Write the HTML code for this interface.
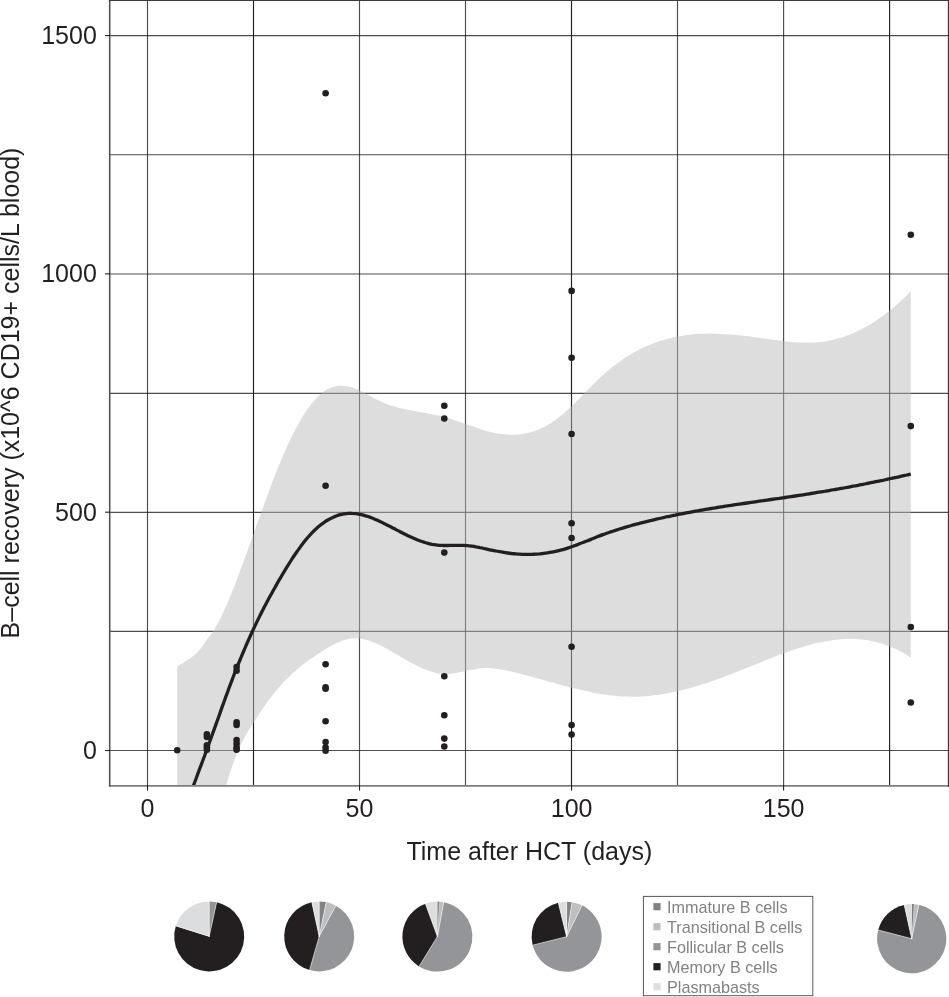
<!DOCTYPE html>
<html lang="en">
<head>
<meta charset="utf-8">
<title>B-cell recovery after HCT</title>
<style>
html,body{margin:0;padding:0;background:#fff;}
body{width:949px;height:997px;overflow:hidden;}
svg{display:block;}
text{font-family:"Liberation Sans",Arial,Helvetica,sans-serif;}
.ax{font-size:25px;fill:#231f20;}
.lg{font-size:16.2px;fill:#808285;}
</style>
</head>
<body>
<svg width="949" height="997" viewBox="0 0 949 997">
<rect x="0" y="0" width="949" height="997" fill="#ffffff"/>
<defs><clipPath id="panel"><rect x="110" y="0.5" width="838.5" height="785.5"/></clipPath></defs>

<g stroke-width="1.15" fill="none">
<line x1="147.50" y1="0" x2="147.50" y2="786" stroke="#231f20" stroke-opacity="0.8"/>
<line x1="253.50" y1="0" x2="253.50" y2="786" stroke="#231f20" stroke-opacity="1.0"/>
<line x1="359.50" y1="0" x2="359.50" y2="786" stroke="#231f20" stroke-opacity="0.8"/>
<line x1="465.50" y1="0" x2="465.50" y2="786" stroke="#231f20" stroke-opacity="0.8"/>
<line x1="571.50" y1="0" x2="571.50" y2="786" stroke="#231f20" stroke-opacity="1.0"/>
<line x1="677.50" y1="0" x2="677.50" y2="786" stroke="#231f20" stroke-opacity="0.8"/>
<line x1="783.60" y1="0" x2="783.60" y2="786" stroke="#231f20" stroke-opacity="0.8"/>
<line x1="889.60" y1="0" x2="889.60" y2="786" stroke="#231f20" stroke-opacity="1.0"/>
<line x1="110" y1="750.50" x2="949" y2="750.50" stroke="#231f20" stroke-opacity="0.8"/>
<line x1="110" y1="631.40" x2="949" y2="631.40" stroke="#231f20" stroke-opacity="0.8"/>
<line x1="110" y1="512.40" x2="949" y2="512.40" stroke="#231f20" stroke-opacity="0.8"/>
<line x1="110" y1="393.30" x2="949" y2="393.30" stroke="#231f20" stroke-opacity="0.8"/>
<line x1="110" y1="274.00" x2="949" y2="274.00" stroke="#231f20" stroke-opacity="0.8"/>
<line x1="110" y1="154.70" x2="949" y2="154.70" stroke="#231f20" stroke-opacity="0.8"/>
<line x1="110" y1="35.55" x2="949" y2="35.55" stroke="#231f20" stroke-opacity="0.8"/>
</g>
<g clip-path="url(#panel)">
<path d="M177.2 666.3C178.0 665.8 180.5 664.4 182.2 663.4C183.9 662.4 185.5 661.4 187.2 660.3C188.8 659.2 190.5 658.1 192.2 656.7C193.8 655.4 195.5 654.1 197.2 652.4C198.8 650.7 200.5 648.6 202.2 646.4C203.8 644.3 205.5 641.6 207.1 639.3C208.8 637.1 210.5 635.4 212.1 633.0C213.8 630.5 215.5 627.8 217.1 624.8C218.8 621.7 220.5 618.4 222.1 614.9C223.8 611.4 225.4 607.6 227.1 603.7C228.8 599.8 230.4 595.7 232.1 591.6C233.8 587.5 235.4 583.2 237.1 578.9C238.7 574.5 240.4 570.1 242.1 565.6C243.7 561.2 245.4 556.6 247.1 552.0C248.7 547.4 250.4 542.8 252.1 538.1C253.7 533.5 255.4 528.8 257.0 524.1C258.7 519.5 260.4 514.8 262.0 510.2C263.7 505.6 265.4 501.0 267.0 496.4C268.7 491.9 270.4 487.4 272.0 483.1C273.7 478.7 275.3 474.4 277.0 470.2C278.7 466.0 280.3 461.9 282.0 458.0C283.7 454.1 285.3 450.3 287.0 446.6C288.7 443.0 290.3 439.5 292.0 436.1C293.6 432.7 295.3 429.5 297.0 426.5C298.6 423.4 300.3 420.5 302.0 417.7C303.6 415.0 305.3 412.4 307.0 410.0C308.6 407.6 310.3 405.3 311.9 403.3C313.6 401.2 315.3 399.3 316.9 397.6C318.6 395.9 320.3 394.4 321.9 393.0C323.6 391.7 325.3 390.5 326.9 389.6C328.6 388.6 330.2 387.9 331.9 387.3C333.6 386.7 335.2 386.3 336.9 386.0C338.6 385.8 340.2 385.7 341.9 385.7C343.5 385.7 345.2 385.9 346.9 386.2C348.5 386.5 350.2 386.9 351.9 387.4C353.5 387.9 355.2 388.5 356.9 389.2C358.5 389.9 360.2 390.7 361.8 391.5C363.5 392.4 365.2 393.3 366.8 394.2C368.5 395.1 370.2 396.0 371.8 396.9C373.5 397.8 375.2 398.8 376.8 399.6C378.5 400.4 380.1 401.2 381.8 402.0C383.5 402.7 385.1 403.4 386.8 404.0C388.5 404.6 390.1 405.2 391.8 405.7C393.5 406.3 395.1 406.8 396.8 407.2C398.4 407.7 400.1 408.1 401.8 408.5C403.4 408.9 405.1 409.3 406.8 409.6C408.4 410.0 410.1 410.3 411.8 410.6C413.4 411.0 415.1 411.3 416.7 411.6C418.4 411.9 420.1 412.1 421.7 412.4C423.4 412.7 425.1 413.0 426.7 413.3C428.4 413.6 430.1 413.9 431.7 414.2C433.4 414.6 435.0 414.9 436.7 415.2C438.4 415.6 440.0 416.0 441.7 416.4C443.4 416.8 445.0 417.2 446.7 417.7C448.3 418.2 450.0 418.7 451.7 419.2C453.3 419.7 455.0 420.3 456.7 420.8C458.3 421.4 460.0 422.0 461.7 422.5C463.3 423.1 465.0 423.7 466.6 424.3C468.3 424.9 470.0 425.5 471.6 426.1C473.3 426.6 475.0 427.2 476.6 427.8C478.3 428.3 480.0 428.9 481.6 429.4C483.3 429.9 484.9 430.4 486.6 430.9C488.3 431.4 489.9 431.8 491.6 432.2C493.3 432.6 494.9 433.0 496.6 433.3C498.3 433.6 499.9 433.9 501.6 434.1C503.2 434.4 504.9 434.5 506.6 434.6C508.2 434.8 509.9 434.8 511.6 434.8C513.2 434.8 514.9 434.8 516.6 434.7C518.2 434.6 519.9 434.4 521.5 434.2C523.2 433.9 524.9 433.6 526.5 433.3C528.2 432.9 529.9 432.5 531.5 432.0C533.2 431.5 534.9 430.9 536.5 430.3C538.2 429.7 539.8 429.0 541.5 428.2C543.2 427.4 544.8 426.6 546.5 425.7C548.2 424.7 549.8 423.8 551.5 422.7C553.1 421.6 554.8 420.5 556.5 419.2C558.1 418.0 559.8 416.7 561.5 415.3C563.1 413.9 564.8 412.5 566.5 411.0C568.1 409.5 569.8 407.9 571.4 406.3C573.1 404.7 574.8 403.1 576.4 401.4C578.1 399.8 579.8 398.1 581.4 396.4C583.1 394.7 584.8 393.0 586.4 391.3C588.1 389.6 589.7 387.9 591.4 386.2C593.1 384.5 594.7 382.9 596.4 381.3C598.1 379.6 599.7 378.0 601.4 376.5C603.1 375.0 604.7 373.5 606.4 372.0C608.0 370.6 609.7 369.2 611.4 367.9C613.0 366.5 614.7 365.2 616.4 364.0C618.0 362.7 619.7 361.5 621.4 360.4C623.0 359.2 624.7 358.1 626.3 357.1C628.0 356.0 629.7 355.0 631.3 354.0C633.0 353.0 634.7 352.1 636.3 351.2C638.0 350.3 639.7 349.4 641.3 348.6C643.0 347.8 644.6 347.0 646.3 346.3C648.0 345.5 649.6 344.8 651.3 344.2C653.0 343.5 654.6 342.9 656.3 342.3C657.9 341.7 659.6 341.1 661.3 340.6C662.9 340.1 664.6 339.6 666.3 339.2C667.9 338.7 669.6 338.3 671.3 337.9C672.9 337.5 674.6 337.1 676.2 336.8C677.9 336.5 679.6 336.2 681.2 335.9C682.9 335.6 684.6 335.4 686.2 335.1C687.9 334.9 689.6 334.7 691.2 334.5C692.9 334.4 694.5 334.2 696.2 334.1C697.9 334.0 699.5 333.9 701.2 333.8C702.9 333.7 704.5 333.7 706.2 333.7C707.9 333.6 709.5 333.6 711.2 333.6C712.8 333.6 714.5 333.7 716.2 333.7C717.8 333.8 719.5 333.8 721.2 333.9C722.8 334.0 724.5 334.1 726.2 334.2C727.8 334.3 729.5 334.4 731.1 334.6C732.8 334.7 734.5 334.9 736.1 335.0C737.8 335.2 739.5 335.3 741.1 335.5C742.8 335.7 744.5 335.9 746.1 336.1C747.8 336.3 749.4 336.5 751.1 336.7C752.8 336.9 754.4 337.2 756.1 337.4C757.8 337.6 759.4 337.8 761.1 338.1C762.7 338.3 764.4 338.5 766.1 338.8C767.7 339.0 769.4 339.3 771.1 339.5C772.7 339.7 774.4 340.0 776.1 340.2C777.7 340.4 779.4 340.6 781.0 340.8C782.7 341.0 784.4 341.2 786.0 341.4C787.7 341.6 789.4 341.8 791.0 341.9C792.7 342.0 794.4 342.2 796.0 342.3C797.7 342.4 799.3 342.5 801.0 342.6C802.7 342.6 804.3 342.7 806.0 342.7C807.7 342.7 809.3 342.7 811.0 342.6C812.7 342.6 814.3 342.5 816.0 342.4C817.6 342.3 819.3 342.1 821.0 341.9C822.6 341.7 824.3 341.5 826.0 341.2C827.6 341.0 829.3 340.7 831.0 340.3C832.6 340.0 834.3 339.6 835.9 339.1C837.6 338.7 839.3 338.2 840.9 337.7C842.6 337.2 844.3 336.6 845.9 336.0C847.6 335.4 849.3 334.8 850.9 334.1C852.6 333.4 854.2 332.7 855.9 331.9C857.6 331.2 859.2 330.4 860.9 329.5C862.6 328.7 864.2 327.8 865.9 326.8C867.5 325.9 869.2 324.9 870.9 323.9C872.5 322.9 874.2 321.8 875.9 320.7C877.5 319.6 879.2 318.5 880.9 317.3C882.5 316.1 884.2 314.9 885.8 313.6C887.5 312.3 889.2 311.0 890.8 309.6C892.5 308.3 894.2 306.9 895.8 305.4C897.5 304.0 899.2 302.5 900.8 300.9C902.5 299.4 904.1 297.8 905.8 296.2C907.5 294.6 910.0 292.0 910.8 291.2L910.8 657.6C910.0 657.1 907.5 655.4 905.8 654.4C904.1 653.4 902.5 652.5 900.8 651.6C899.1 650.7 897.5 649.9 895.8 649.1C894.1 648.3 892.5 647.6 890.8 646.9C889.1 646.2 887.5 645.6 885.8 645.0C884.1 644.4 882.5 643.8 880.8 643.3C879.2 642.8 877.5 642.4 875.8 642.0C874.2 641.6 872.5 641.2 870.8 640.9C869.2 640.6 867.5 640.3 865.8 640.1C864.2 639.8 862.5 639.6 860.8 639.5C859.2 639.3 857.5 639.2 855.8 639.1C854.2 639.0 852.5 639.0 850.8 639.0C849.2 639.0 847.5 639.0 845.8 639.1C844.2 639.1 842.5 639.2 840.8 639.3C839.2 639.5 837.5 639.6 835.8 639.8C834.2 640.0 832.5 640.2 830.8 640.4C829.2 640.7 827.5 640.9 825.8 641.2C824.2 641.5 822.5 641.9 820.9 642.2C819.2 642.6 817.5 642.9 815.9 643.3C814.2 643.7 812.5 644.1 810.9 644.6C809.2 645.0 807.5 645.5 805.9 645.9C804.2 646.4 802.5 646.9 800.9 647.4C799.2 648.0 797.5 648.5 795.9 649.0C794.2 649.6 792.5 650.1 790.9 650.7C789.2 651.3 787.5 651.9 785.9 652.5C784.2 653.1 782.5 653.7 780.9 654.3C779.2 654.9 777.5 655.6 775.9 656.2C774.2 656.9 772.5 657.5 770.9 658.2C769.2 658.8 767.6 659.5 765.9 660.1C764.2 660.8 762.6 661.5 760.9 662.2C759.2 662.8 757.6 663.5 755.9 664.2C754.2 664.9 752.6 665.5 750.9 666.2C749.2 666.9 747.6 667.6 745.9 668.3C744.2 668.9 742.6 669.6 740.9 670.3C739.2 670.9 737.6 671.6 735.9 672.3C734.2 672.9 732.6 673.6 730.9 674.2C729.2 674.9 727.6 675.5 725.9 676.1C724.2 676.8 722.6 677.4 720.9 678.0C719.2 678.6 717.6 679.2 715.9 679.8C714.2 680.4 712.6 681.0 710.9 681.5C709.3 682.1 707.6 682.7 705.9 683.2C704.3 683.8 702.6 684.3 700.9 684.8C699.3 685.3 697.6 685.8 695.9 686.3C694.3 686.8 692.6 687.3 690.9 687.8C689.3 688.2 687.6 688.7 685.9 689.1C684.3 689.6 682.6 690.0 680.9 690.4C679.3 690.8 677.6 691.2 675.9 691.5C674.3 691.9 672.6 692.3 670.9 692.6C669.3 692.9 667.6 693.3 665.9 693.6C664.3 693.9 662.6 694.1 660.9 694.4C659.3 694.7 657.6 694.9 655.9 695.1C654.3 695.3 652.6 695.5 651.0 695.7C649.3 695.9 647.6 696.0 646.0 696.2C644.3 696.3 642.6 696.4 641.0 696.5C639.3 696.6 637.6 696.7 636.0 696.7C634.3 696.7 632.6 696.7 631.0 696.7C629.3 696.7 627.6 696.7 626.0 696.6C624.3 696.6 622.6 696.5 621.0 696.4C619.3 696.3 617.6 696.1 616.0 696.0C614.3 695.8 612.6 695.7 611.0 695.5C609.3 695.3 607.6 695.0 606.0 694.8C604.3 694.6 602.6 694.3 601.0 694.0C599.3 693.8 597.6 693.5 596.0 693.2C594.3 692.9 592.7 692.5 591.0 692.2C589.3 691.9 587.7 691.5 586.0 691.1C584.3 690.8 582.7 690.4 581.0 690.0C579.3 689.6 577.7 689.2 576.0 688.8C574.3 688.4 572.7 688.0 571.0 687.5C569.3 687.1 567.7 686.7 566.0 686.2C564.3 685.8 562.7 685.4 561.0 684.9C559.3 684.4 557.7 684.0 556.0 683.5C554.3 683.1 552.7 682.6 551.0 682.1C549.3 681.7 547.7 681.2 546.0 680.7C544.3 680.3 542.7 679.8 541.0 679.3C539.4 678.9 537.7 678.4 536.0 677.9C534.4 677.5 532.7 677.0 531.0 676.6C529.4 676.1 527.7 675.7 526.0 675.2C524.4 674.8 522.7 674.4 521.0 673.9C519.4 673.5 517.7 673.1 516.0 672.7C514.4 672.3 512.7 671.9 511.0 671.5C509.4 671.1 507.7 670.7 506.0 670.4C504.4 670.0 502.7 669.7 501.0 669.4C499.4 669.1 497.7 668.9 496.0 668.7C494.4 668.5 492.7 668.3 491.0 668.2C489.4 668.1 487.7 668.0 486.0 668.1C484.4 668.1 482.7 668.1 481.1 668.3C479.4 668.4 477.7 668.6 476.1 668.9C474.4 669.1 472.7 669.5 471.1 669.8C469.4 670.1 467.7 670.5 466.1 670.9C464.4 671.3 462.7 671.7 461.1 672.0C459.4 672.4 457.7 672.7 456.1 673.0C454.4 673.3 452.7 673.5 451.1 673.7C449.4 673.9 447.7 674.0 446.1 674.0C444.4 674.0 442.7 673.9 441.1 673.7C439.4 673.6 437.7 673.3 436.1 672.9C434.4 672.6 432.7 672.1 431.1 671.6C429.4 671.1 427.7 670.5 426.1 669.8C424.4 669.2 422.8 668.5 421.1 667.7C419.4 667.0 417.8 666.2 416.1 665.3C414.4 664.5 412.8 663.6 411.1 662.7C409.4 661.8 407.8 660.8 406.1 659.9C404.4 658.9 402.8 658.0 401.1 657.0C399.4 656.0 397.8 655.0 396.1 654.1C394.4 653.1 392.8 652.1 391.1 651.2C389.4 650.2 387.8 649.3 386.1 648.4C384.4 647.5 382.8 646.6 381.1 645.7C379.4 644.9 377.8 644.1 376.1 643.4C374.4 642.6 372.8 642.0 371.1 641.4C369.4 640.8 367.8 640.2 366.1 639.8C364.5 639.3 362.8 639.0 361.1 638.7C359.5 638.5 357.8 638.3 356.1 638.3C354.5 638.3 352.8 638.4 351.1 638.6C349.5 638.8 347.8 639.1 346.1 639.6C344.5 640.0 342.8 640.6 341.1 641.2C339.5 641.8 337.8 642.6 336.1 643.3C334.5 644.1 332.8 645.0 331.1 645.9C329.5 646.8 327.8 647.8 326.1 648.8C324.5 649.8 322.8 650.8 321.1 651.9C319.5 653.0 317.8 654.0 316.1 655.2C314.5 656.3 312.8 657.4 311.2 658.6C309.5 659.7 307.8 660.9 306.2 662.2C304.5 663.4 302.8 664.7 301.2 666.0C299.5 667.4 297.8 668.8 296.2 670.2C294.5 671.6 292.8 673.1 291.2 674.7C289.5 676.3 287.8 677.9 286.2 679.6C284.5 681.3 282.8 683.0 281.2 684.9C279.5 686.8 277.8 688.7 276.2 690.7C274.5 692.7 272.8 694.8 271.2 697.0C269.5 699.2 267.8 701.5 266.2 703.8C264.5 706.2 262.8 708.6 261.2 711.0C259.5 713.5 257.8 716.0 256.2 718.6C254.5 721.1 252.9 723.6 251.2 726.3C249.5 729.0 247.9 731.7 246.2 734.6C244.5 737.6 242.9 740.7 241.2 744.1C239.5 747.6 237.9 751.2 236.2 755.4C234.5 759.6 232.9 764.0 231.2 769.1C229.5 774.1 228.9 775.6 226.2 785.8C223.5 795.9 223.2 822.6 215.0 830.0C206.8 837.4 183.5 830.0 177.2 830.0Z" fill="rgb(183,184,186)" fill-opacity="0.48" stroke="none"/>
<path d="M184.5 809.1C185.2 807.3 187.2 802.2 188.5 798.7C189.8 795.2 191.2 791.7 192.5 788.2C193.8 784.6 195.1 781.1 196.5 777.5C197.8 773.9 199.1 770.3 200.5 766.7C201.8 763.2 203.1 759.6 204.5 756.0C205.8 752.4 207.1 748.8 208.4 745.1C209.8 741.5 211.1 737.9 212.4 734.2C213.8 730.5 215.1 726.8 216.4 723.1C217.8 719.4 219.1 715.6 220.4 711.9C221.7 708.1 223.1 704.4 224.4 700.7C225.7 697.0 227.1 693.4 228.4 689.8C229.7 686.2 231.1 682.6 232.4 679.1C233.7 675.7 235.0 672.2 236.4 668.9C237.7 665.5 239.0 662.2 240.4 659.0C241.7 655.7 243.0 652.6 244.4 649.5C245.7 646.3 247.0 643.3 248.4 640.3C249.7 637.3 251.0 634.4 252.3 631.5C253.7 628.6 255.0 625.8 256.3 623.1C257.7 620.3 259.0 617.6 260.3 614.9C261.7 612.3 263.0 609.7 264.3 607.1C265.6 604.5 267.0 602.0 268.3 599.5C269.6 597.0 271.0 594.6 272.3 592.2C273.6 589.8 275.0 587.4 276.3 585.1C277.6 582.7 278.9 580.4 280.3 578.2C281.6 575.9 282.9 573.6 284.3 571.4C285.6 569.2 286.9 567.0 288.3 564.9C289.6 562.8 290.9 560.7 292.2 558.6C293.6 556.6 294.9 554.6 296.2 552.7C297.6 550.7 298.9 548.9 300.2 547.1C301.6 545.2 302.9 543.5 304.2 541.8C305.6 540.1 306.9 538.5 308.2 537.0C309.5 535.5 310.9 534.0 312.2 532.6C313.5 531.3 314.9 530.0 316.2 528.8C317.5 527.5 318.9 526.4 320.2 525.3C321.5 524.3 322.8 523.3 324.2 522.3C325.5 521.4 326.8 520.6 328.2 519.8C329.5 519.0 330.8 518.3 332.2 517.7C333.5 517.1 334.8 516.5 336.1 516.0C337.5 515.5 338.8 515.1 340.1 514.7C341.5 514.4 342.8 514.1 344.1 513.9C345.5 513.7 346.8 513.5 348.1 513.4C349.4 513.3 350.8 513.3 352.1 513.4C353.4 513.4 354.8 513.5 356.1 513.7C357.4 513.8 358.8 514.1 360.1 514.3C361.4 514.6 362.7 514.9 364.1 515.3C365.4 515.7 366.7 516.1 368.1 516.5C369.4 517.0 370.7 517.5 372.1 518.0C373.4 518.5 374.7 519.1 376.1 519.7C377.4 520.3 378.7 520.9 380.0 521.5C381.4 522.1 382.7 522.8 384.0 523.4C385.4 524.1 386.7 524.8 388.0 525.5C389.4 526.1 390.7 526.8 392.0 527.5C393.3 528.2 394.7 528.9 396.0 529.6C397.3 530.3 398.7 531.0 400.0 531.7C401.3 532.4 402.7 533.1 404.0 533.7C405.3 534.4 406.6 535.0 408.0 535.7C409.3 536.3 410.6 536.9 412.0 537.5C413.3 538.1 414.6 538.7 416.0 539.2C417.3 539.8 418.6 540.3 419.9 540.8C421.3 541.3 422.6 541.8 423.9 542.2C425.3 542.6 426.6 543.0 427.9 543.3C429.3 543.7 430.6 544.0 431.9 544.3C433.3 544.5 434.6 544.7 435.9 544.9C437.2 545.1 438.6 545.2 439.9 545.3C441.2 545.4 442.6 545.4 443.9 545.5C445.2 545.5 446.6 545.5 447.9 545.5C449.2 545.5 450.5 545.4 451.9 545.4C453.2 545.4 454.5 545.3 455.9 545.3C457.2 545.3 458.5 545.3 459.9 545.3C461.2 545.3 462.5 545.3 463.8 545.4C465.2 545.5 466.5 545.6 467.8 545.7C469.2 545.8 470.5 546.0 471.8 546.2C473.2 546.4 474.5 546.6 475.8 546.9C477.1 547.1 478.5 547.4 479.8 547.7C481.1 547.9 482.5 548.2 483.8 548.5C485.1 548.8 486.5 549.1 487.8 549.4C489.1 549.7 490.5 549.9 491.8 550.2C493.1 550.5 494.4 550.7 495.8 551.0C497.1 551.3 498.4 551.5 499.8 551.7C501.1 552.0 502.4 552.2 503.8 552.4C505.1 552.6 506.4 552.8 507.7 553.0C509.1 553.2 510.4 553.3 511.7 553.5C513.1 553.6 514.4 553.7 515.7 553.9C517.1 554.0 518.4 554.1 519.7 554.1C521.0 554.2 522.4 554.3 523.7 554.3C525.0 554.4 526.4 554.4 527.7 554.4C529.0 554.4 530.4 554.4 531.7 554.3C533.0 554.3 534.3 554.2 535.7 554.2C537.0 554.1 538.3 554.0 539.7 553.9C541.0 553.7 542.3 553.6 543.7 553.4C545.0 553.3 546.3 553.1 547.6 552.9C549.0 552.7 550.3 552.5 551.6 552.2C553.0 552.0 554.3 551.7 555.6 551.4C557.0 551.1 558.3 550.8 559.6 550.4C561.0 550.1 562.3 549.7 563.6 549.4C564.9 549.0 566.3 548.6 567.6 548.1C568.9 547.7 570.3 547.3 571.6 546.8C572.9 546.3 574.3 545.8 575.6 545.4C576.9 544.9 578.2 544.4 579.6 543.8C580.9 543.3 582.2 542.8 583.6 542.3C584.9 541.7 586.2 541.2 587.6 540.7C588.9 540.1 590.2 539.6 591.5 539.1C592.9 538.5 594.2 538.0 595.5 537.5C596.9 537.0 598.2 536.4 599.5 535.9C600.9 535.4 602.2 534.9 603.5 534.4C604.8 533.9 606.2 533.5 607.5 533.0C608.8 532.5 610.2 532.1 611.5 531.6C612.8 531.2 614.2 530.7 615.5 530.3C616.8 529.9 618.2 529.5 619.5 529.0C620.8 528.6 622.1 528.2 623.5 527.8C624.8 527.4 626.1 527.0 627.5 526.7C628.8 526.3 630.1 525.9 631.5 525.5C632.8 525.1 634.1 524.8 635.4 524.4C636.8 524.1 638.1 523.7 639.4 523.4C640.8 523.0 642.1 522.7 643.4 522.3C644.8 522.0 646.1 521.7 647.4 521.3C648.7 521.0 650.1 520.7 651.4 520.4C652.7 520.0 654.1 519.7 655.4 519.4C656.7 519.1 658.1 518.8 659.4 518.5C660.7 518.2 662.0 517.9 663.4 517.6C664.7 517.3 666.0 517.0 667.4 516.7C668.7 516.4 670.0 516.2 671.4 515.9C672.7 515.6 674.0 515.3 675.4 515.1C676.7 514.8 678.0 514.5 679.3 514.2C680.7 514.0 682.0 513.7 683.3 513.5C684.7 513.2 686.0 513.0 687.3 512.7C688.7 512.5 690.0 512.2 691.3 512.0C692.6 511.7 694.0 511.5 695.3 511.2C696.6 511.0 698.0 510.8 699.3 510.5C700.6 510.3 702.0 510.1 703.3 509.8C704.6 509.6 705.9 509.4 707.3 509.1C708.6 508.9 709.9 508.7 711.3 508.5C712.6 508.3 713.9 508.0 715.3 507.8C716.6 507.6 717.9 507.4 719.2 507.2C720.6 507.0 721.9 506.8 723.2 506.6C724.6 506.4 725.9 506.1 727.2 505.9C728.6 505.7 729.9 505.5 731.2 505.3C732.6 505.1 733.9 504.9 735.2 504.7C736.5 504.5 737.9 504.3 739.2 504.1C740.5 503.9 741.9 503.7 743.2 503.5C744.5 503.3 745.9 503.2 747.2 503.0C748.5 502.8 749.8 502.6 751.2 502.4C752.5 502.2 753.8 502.0 755.2 501.8C756.5 501.6 757.8 501.4 759.2 501.2C760.5 501.0 761.8 500.8 763.1 500.7C764.5 500.5 765.8 500.3 767.1 500.1C768.5 499.9 769.8 499.7 771.1 499.5C772.5 499.3 773.8 499.1 775.1 498.9C776.4 498.7 777.8 498.5 779.1 498.4C780.4 498.2 781.8 498.0 783.1 497.8C784.4 497.6 785.8 497.4 787.1 497.2C788.4 497.0 789.8 496.8 791.1 496.6C792.4 496.4 793.7 496.2 795.1 496.0C796.4 495.8 797.7 495.6 799.1 495.4C800.4 495.2 801.7 495.0 803.1 494.8C804.4 494.6 805.7 494.4 807.0 494.2C808.4 494.0 809.7 493.7 811.0 493.5C812.4 493.3 813.7 493.1 815.0 492.9C816.4 492.7 817.7 492.5 819.0 492.2C820.3 492.0 821.7 491.8 823.0 491.6C824.3 491.4 825.7 491.1 827.0 490.9C828.3 490.7 829.7 490.4 831.0 490.2C832.3 490.0 833.6 489.8 835.0 489.5C836.3 489.3 837.6 489.1 839.0 488.8C840.3 488.6 841.6 488.3 843.0 488.1C844.3 487.9 845.6 487.6 846.9 487.4C848.3 487.1 849.6 486.9 850.9 486.6C852.3 486.4 853.6 486.1 854.9 485.9C856.3 485.6 857.6 485.4 858.9 485.1C860.3 484.8 861.6 484.6 862.9 484.3C864.2 484.1 865.6 483.8 866.9 483.5C868.2 483.3 869.6 483.0 870.9 482.7C872.2 482.5 873.6 482.2 874.9 481.9C876.2 481.6 877.5 481.4 878.9 481.1C880.2 480.8 881.5 480.5 882.9 480.3C884.2 480.0 885.5 479.7 886.9 479.4C888.2 479.1 889.5 478.8 890.8 478.5C892.2 478.2 893.5 478.0 894.8 477.7C896.2 477.4 897.5 477.1 898.8 476.8C900.2 476.5 901.5 476.2 902.8 475.9C904.1 475.6 905.5 475.3 906.8 475.0C908.1 474.6 910.1 474.2 910.8 474.0" fill="none" stroke="#231f20" stroke-width="3.3" stroke-linejoin="round"/>
<g fill="#231f20">
<circle cx="177.2" cy="750.2" r="3.3"/>
<circle cx="206.9" cy="734.4" r="3.3"/>
<circle cx="206.9" cy="737.0" r="3.3"/>
<circle cx="206.9" cy="745.3" r="3.3"/>
<circle cx="206.9" cy="747.5" r="3.3"/>
<circle cx="206.9" cy="749.8" r="3.3"/>
<circle cx="236.6" cy="667.0" r="3.3"/>
<circle cx="236.6" cy="670.8" r="3.3"/>
<circle cx="236.6" cy="722.4" r="3.3"/>
<circle cx="236.6" cy="725.0" r="3.3"/>
<circle cx="236.6" cy="740.0" r="3.3"/>
<circle cx="236.6" cy="743.8" r="3.3"/>
<circle cx="236.6" cy="747.5" r="3.3"/>
<circle cx="236.6" cy="749.8" r="3.3"/>
<circle cx="325.6" cy="93.3" r="3.3"/>
<circle cx="325.6" cy="485.8" r="3.3"/>
<circle cx="325.6" cy="664.3" r="3.3"/>
<circle cx="325.6" cy="687.4" r="3.3"/>
<circle cx="325.6" cy="688.7" r="3.3"/>
<circle cx="325.6" cy="721.3" r="3.3"/>
<circle cx="325.6" cy="742.1" r="3.3"/>
<circle cx="325.6" cy="747.5" r="3.3"/>
<circle cx="325.6" cy="750.7" r="3.3"/>
<circle cx="444.3" cy="405.8" r="3.3"/>
<circle cx="444.3" cy="418.5" r="3.3"/>
<circle cx="444.3" cy="552.6" r="3.3"/>
<circle cx="444.3" cy="676.3" r="3.3"/>
<circle cx="444.3" cy="715.3" r="3.3"/>
<circle cx="444.3" cy="738.6" r="3.3"/>
<circle cx="444.3" cy="746.5" r="3.3"/>
<circle cx="571.6" cy="290.9" r="3.3"/>
<circle cx="571.6" cy="357.8" r="3.3"/>
<circle cx="571.6" cy="434.0" r="3.3"/>
<circle cx="571.6" cy="523.3" r="3.3"/>
<circle cx="571.6" cy="538.0" r="3.3"/>
<circle cx="571.6" cy="646.7" r="3.3"/>
<circle cx="571.6" cy="725.0" r="3.3"/>
<circle cx="571.6" cy="734.5" r="3.3"/>
<circle cx="910.8" cy="234.7" r="3.3"/>
<circle cx="910.8" cy="426.1" r="3.3"/>
<circle cx="910.8" cy="627.0" r="3.3"/>
<circle cx="910.8" cy="702.5" r="3.3"/>
</g></g>
<line x1="108.9" y1="785.85" x2="949" y2="785.85" stroke="#7f7d7e" stroke-width="1.9"/>
<line x1="109.7" y1="0" x2="109.7" y2="786.6" stroke="#575355" stroke-width="1.6"/>
<line x1="108.9" y1="0.3" x2="949" y2="0.3" stroke="#3e3a3c" stroke-width="1.5"/>
<line x1="948.6" y1="0" x2="948.6" y2="786.8" stroke="#3e3a3c" stroke-width="1.5"/>
<g stroke="#231f20" stroke-width="1.1" fill="none">
<line x1="147.50" y1="785" x2="147.50" y2="790.6"/>
<line x1="359.53" y1="785" x2="359.53" y2="790.6"/>
<line x1="571.56" y1="785" x2="571.56" y2="790.6"/>
<line x1="783.59" y1="785" x2="783.59" y2="790.6"/>
<line x1="105.1" y1="750.50" x2="110" y2="750.50"/>
<line x1="105.1" y1="512.18" x2="110" y2="512.18"/>
<line x1="105.1" y1="273.87" x2="110" y2="273.87"/>
<line x1="105.1" y1="35.55" x2="110" y2="35.55"/>
</g>
<text class="ax" x="96.8" y="758.8" text-anchor="end">0</text>
<text class="ax" x="96.8" y="520.5" text-anchor="end">500</text>
<text class="ax" x="96.8" y="282.2" text-anchor="end">1000</text>
<text class="ax" x="96.8" y="43.8" text-anchor="end">1500</text>
<text class="ax" x="147.5" y="817.3" text-anchor="middle">0</text>
<text class="ax" x="359.5" y="817.3" text-anchor="middle">50</text>
<text class="ax" x="571.6" y="817.3" text-anchor="middle">100</text>
<text class="ax" x="783.6" y="817.3" text-anchor="middle">150</text>
<text class="ax" x="529.4" y="859.9" text-anchor="middle">Time after HCT (days)</text>
<text class="ax" transform="translate(18.5 393) rotate(-90)" text-anchor="middle">B–cell recovery (x10^6 CD19+ cells/L blood)</text>
<g><path d="M209.20 936.40L209.20 901.40A35.00 35.00 0 0 1 216.66 902.20Z" fill="#939598"/><path d="M209.20 936.40L216.66 902.20A35.00 35.00 0 1 1 175.82 925.88Z" fill="#231f20"/><path d="M209.20 936.40L175.82 925.88A35.00 35.00 0 0 1 209.20 901.40Z" fill="#dcddde"/></g><g stroke="#ffffff" stroke-width="0.55" stroke-linecap="round"><line x1="209.20" y1="936.40" x2="216.66" y2="902.20"/><line x1="209.20" y1="936.40" x2="175.82" y2="925.88"/><line x1="209.20" y1="936.40" x2="209.20" y2="901.40"/></g>
<g><path d="M319.20 936.40L319.20 901.40A35.00 35.00 0 0 1 326.24 902.11Z" fill="#808285"/><path d="M319.20 936.40L326.24 902.11A35.00 35.00 0 0 1 335.90 905.64Z" fill="#bcbec0"/><path d="M319.20 936.40L335.90 905.64A35.00 35.00 0 0 1 309.55 970.04Z" fill="#939598"/><path d="M319.20 936.40L309.55 970.04A35.00 35.00 0 0 1 311.80 902.19Z" fill="#231f20"/><path d="M319.20 936.40L311.80 902.19A35.00 35.00 0 0 1 319.20 901.40Z" fill="#dcddde"/></g><g stroke="#ffffff" stroke-width="0.55" stroke-linecap="round"><line x1="319.20" y1="936.40" x2="326.24" y2="902.11"/><line x1="319.20" y1="936.40" x2="335.90" y2="905.64"/><line x1="319.20" y1="936.40" x2="309.55" y2="970.04"/><line x1="319.20" y1="936.40" x2="311.80" y2="902.19"/><line x1="319.20" y1="936.40" x2="319.20" y2="901.40"/></g>
<g><path d="M437.40 936.60L437.40 901.60A35.00 35.00 0 0 1 439.05 901.64Z" fill="#808285"/><path d="M437.40 936.60L439.05 901.64A35.00 35.00 0 0 1 443.78 902.19Z" fill="#bcbec0"/><path d="M437.40 936.60L443.78 902.19A35.00 35.00 0 1 1 419.01 966.38Z" fill="#939598"/><path d="M437.40 936.60L419.01 966.38A35.00 35.00 0 0 1 425.43 903.71Z" fill="#231f20"/><path d="M437.40 936.60L425.43 903.71A35.00 35.00 0 0 1 437.40 901.60Z" fill="#dcddde"/></g><g stroke="#ffffff" stroke-width="0.55" stroke-linecap="round"><line x1="437.40" y1="936.60" x2="439.05" y2="901.64"/><line x1="437.40" y1="936.60" x2="443.78" y2="902.19"/><line x1="437.40" y1="936.60" x2="419.01" y2="966.38"/><line x1="437.40" y1="936.60" x2="425.43" y2="903.71"/><line x1="437.40" y1="936.60" x2="437.40" y2="901.60"/></g><path d="M437.40 936.60L437.67 901.60A35.00 35.00 0 0 1 439.23 901.65Z" fill="#808285"/>
<g><path d="M566.60 936.70L566.60 901.70A35.00 35.00 0 0 1 572.08 902.13Z" fill="#808285"/><path d="M566.60 936.70L572.08 902.13A35.00 35.00 0 0 1 582.11 905.32Z" fill="#bcbec0"/><path d="M566.60 936.70L582.11 905.32A35.00 35.00 0 1 1 532.64 945.17Z" fill="#939598"/><path d="M566.60 936.70L532.64 945.17A35.00 35.00 0 0 1 558.31 902.70Z" fill="#231f20"/><path d="M566.60 936.70L558.31 902.70A35.00 35.00 0 0 1 566.60 901.70Z" fill="#dcddde"/></g><g stroke="#ffffff" stroke-width="0.55" stroke-linecap="round"><line x1="566.60" y1="936.70" x2="572.08" y2="902.13"/><line x1="566.60" y1="936.70" x2="582.11" y2="905.32"/><line x1="566.60" y1="936.70" x2="532.64" y2="945.17"/><line x1="566.60" y1="936.70" x2="558.31" y2="902.70"/><line x1="566.60" y1="936.70" x2="566.60" y2="901.70"/></g>
<g><path d="M911.70 938.70L911.70 904.10A34.60 34.60 0 0 1 913.75 904.16Z" fill="#808285"/><path d="M911.70 938.70L913.75 904.16A34.60 34.60 0 0 1 918.89 904.86Z" fill="#bcbec0"/><path d="M911.70 938.70L918.89 904.86A34.60 34.60 0 1 1 878.22 929.98Z" fill="#939598"/><path d="M911.70 938.70L878.22 929.98A34.60 34.60 0 0 1 904.21 904.92Z" fill="#231f20"/><path d="M911.70 938.70L904.21 904.92A34.60 34.60 0 0 1 911.70 904.10Z" fill="#dcddde"/></g><g stroke="#ffffff" stroke-width="0.55" stroke-linecap="round"><line x1="911.70" y1="938.70" x2="913.75" y2="904.16"/><line x1="911.70" y1="938.70" x2="918.89" y2="904.86"/><line x1="911.70" y1="938.70" x2="878.22" y2="929.98"/><line x1="911.70" y1="938.70" x2="904.21" y2="904.92"/><line x1="911.70" y1="938.70" x2="911.70" y2="904.10"/></g><path d="M911.70 938.70L911.97 904.10A34.60 34.60 0 0 1 913.93 904.17Z" fill="#808285"/>
<rect x="643.4" y="896.4" width="169.4" height="99.3" fill="#ffffff" stroke="#58595b" stroke-width="1"/>
<rect x="653.4" y="903.1" width="7.2" height="7.2" fill="#808285"/>
<text class="lg" x="667" y="912.7">Immature B cells</text>
<rect x="653.4" y="923.1" width="7.2" height="7.2" fill="#bcbec0"/>
<text class="lg" x="667" y="932.7">Transitional B cells</text>
<rect x="653.4" y="943.1" width="7.2" height="7.2" fill="#939598"/>
<text class="lg" x="667" y="952.7">Follicular B cells</text>
<rect x="653.4" y="963.1" width="7.2" height="7.2" fill="#231f20"/>
<text class="lg" x="667" y="972.7">Memory B cells</text>
<rect x="653.4" y="983.1" width="7.2" height="7.2" fill="#dcddde"/>
<text class="lg" x="667" y="992.7">Plasmabasts</text>
</svg>
</body>
</html>
